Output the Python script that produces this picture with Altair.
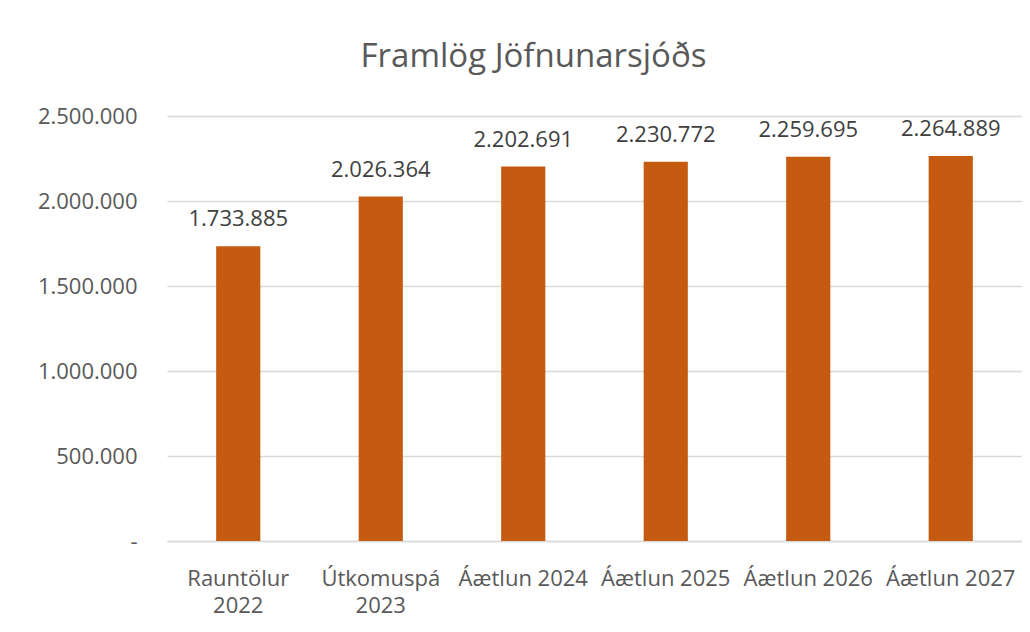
import altair as alt
import pandas as pd

categories = ["Rauntölur 2022", "Útkomuspá 2023", "Áætlun 2024", "Áætlun 2025", "Áætlun 2026", "Áætlun 2027"]
values = [1733885, 2026364, 2202691, 2230772, 2259695, 2264889]
y_ticks = [0, 500000, 1000000, 1500000, 2000000, 2500000]

df = pd.DataFrame({
    "flokkur": categories,
    "gildi": values,
    "merki": [f"{v:,}".replace(",", ".") for v in values],
})

FONT = "Open Sans"
TXT = "#595959"
BAR = "#C55A11"

x = alt.X("flokkur:N", sort=categories, title=None,
          scale=alt.Scale(paddingInner=0.69, paddingOuter=0.345),
          axis=alt.Axis(labelAngle=0, labelFont=FONT, labelFontSize=22, labelColor=TXT,
                        labelPadding=27, labelLineHeight=27, ticks=False, tickSize=0,
                        domainColor="#D9D9D9", domainWidth=1.5,
                        labelExpr="length(datum.label) > 12 ? split(datum.label, ' ') : datum.label"))

y = alt.Y("gildi:Q", title=None,
          scale=alt.Scale(domain=[0, 2500000], nice=False),
          axis=alt.Axis(values=y_ticks, labelFont=FONT, labelFontSize=22, labelColor=TXT,
                        labelPadding=30, ticks=False, tickSize=0, domain=False,
                        gridColor="#D9D9D9", gridWidth=1.5,
                        labelExpr="datum.value == 0 ? '-' : replace(format(datum.value, ',d'), regexp(',', 'g'), '.')"))

bars = alt.Chart(df).mark_bar(color=BAR).encode(x=x, y=y)
labels = alt.Chart(df).mark_text(font=FONT, fontSize=22, color="#404040",
                                 baseline="alphabetic", dy=-20).encode(
    x=alt.X("flokkur:N", sort=categories), y="gildi:Q", text="merki:N")

chart = (bars + labels).properties(
    width=855, height=425,
    title=alt.TitleParams("Framlög Jöfnunarsjóðs", font=FONT, fontSize=33, color=TXT,
                          fontWeight="normal", offset=31, dx=-61),
    autosize=alt.AutoSizeParams(type="none"),
    padding={"left": 159, "top": 108, "right": 0, "bottom": 90},
).configure(background="white").configure_view(stroke=None, strokeWidth=0)

chart.save("out.html", embed_options={"renderer": "svg", "actions": False})
